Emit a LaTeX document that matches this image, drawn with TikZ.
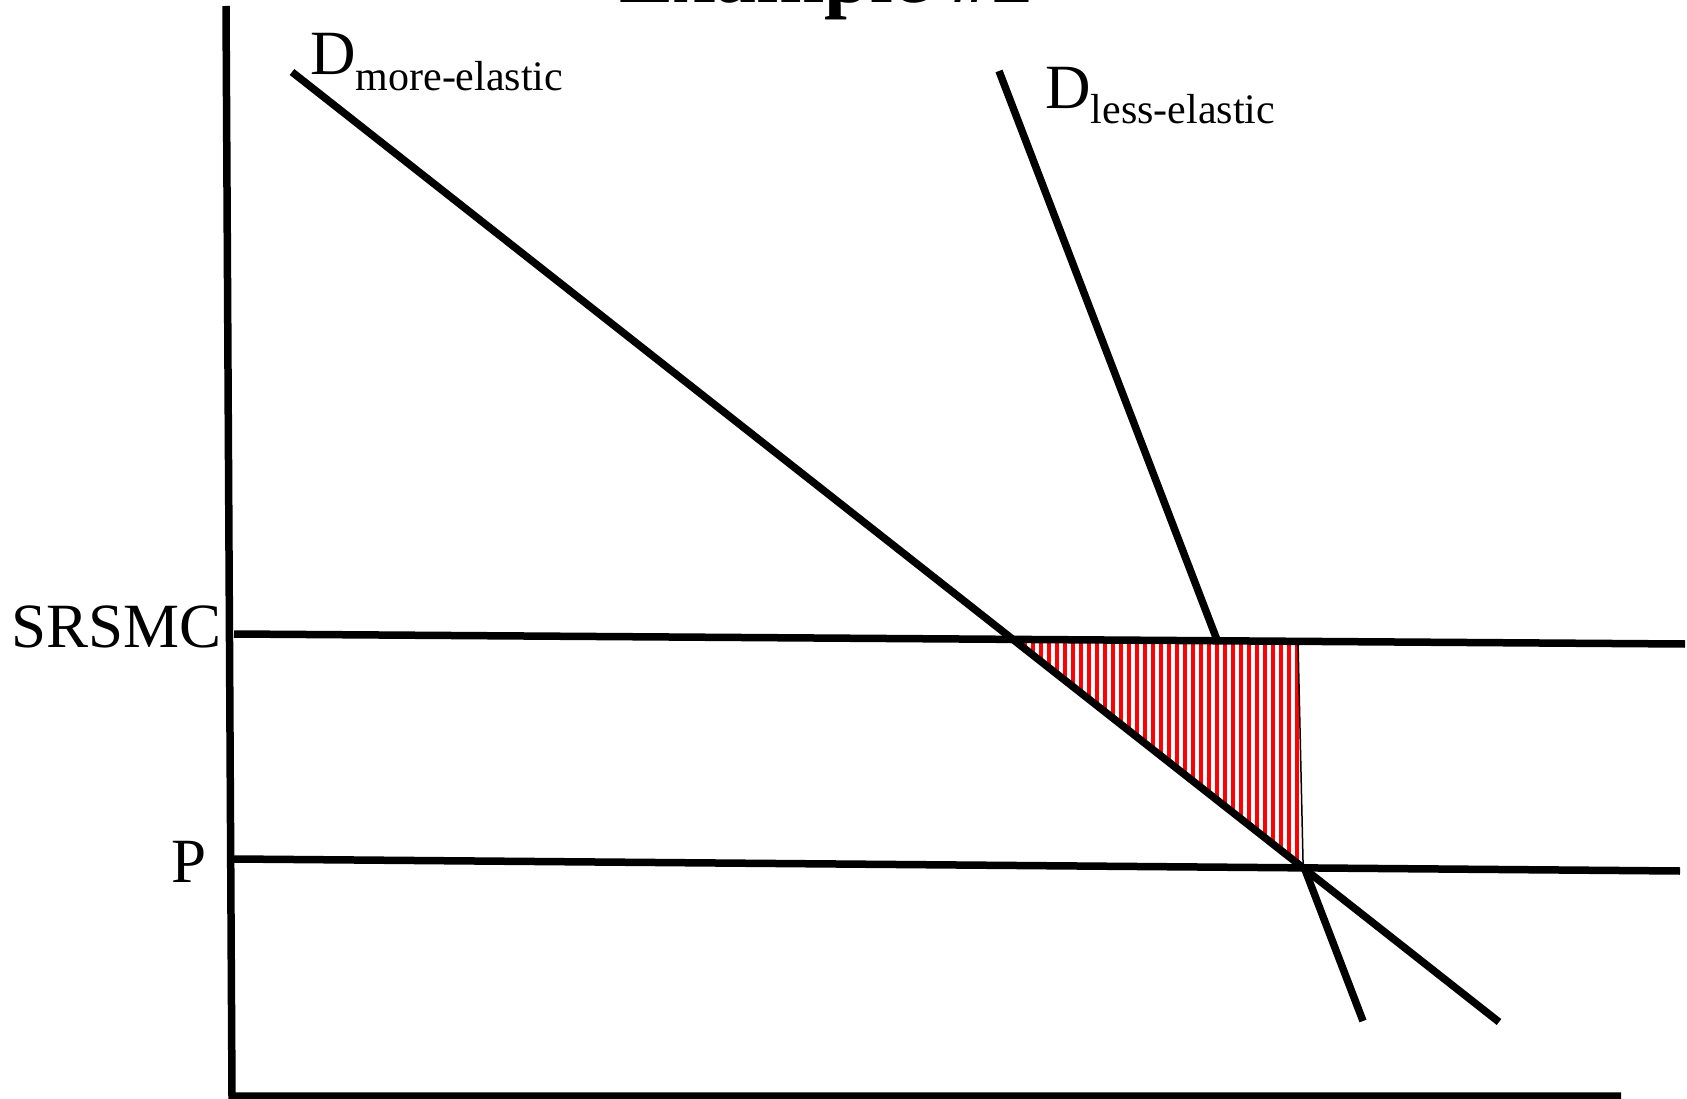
\documentclass[tikz,border=0pt]{standalone}
\usepackage{fontspec}
\setmainfont{Liberation Serif}
\usetikzlibrary{intersections}

\begin{document}
\begin{tikzpicture}[
  x=1pt, y=-1pt,
  curve/.style={line width=7.5pt},
  axis/.style={line width=7.5pt},
  lbl/.style={inner sep=0pt, font=\fontsize{63}{70}\selectfont},
  ttl/.style={inner sep=0pt, font=\fontsize{82}{90}\selectfont\bfseries},
  stripe/.style={red, line width=4.3pt}
]
  \useasboundingbox (0,0) rectangle (1687,1099);
  \clip (0,0) rectangle (1687,1099);

  \coordinate (ytop) at (226,6);
  \coordinate (orig) at (232,1096);
  \coordinate (xend) at (1621,1096);
  \coordinate (srL) at (234,634);
  \coordinate (srR) at (1685,644);
  \coordinate (pL) at (234,859);
  \coordinate (pR) at (1680,871);
  \coordinate (moreT) at (292,72);
  \coordinate (moreB) at (1499,1022);
  \coordinate (lessT) at (999,71);
  \coordinate (lessB) at (1363,1021);
  \coordinate (hatchR) at (1298,641);

  \node[ttl, anchor=base] (title) at (826,3) {Example \#2};

  \path[name path=srsmc] (srL) -- (srR);
  \path[name path=price] (pL) -- (pR);
  \path[name path=dmore] (moreT) -- (moreB);
  \path[name path=dless] (lessT) -- (lessB);
  \path[name intersections={of=dmore and srsmc, by=hatchL}];
  \path[name intersections={of=dmore and price, by=hatchB}];
  \path[name intersections={of=dless and srsmc, by=lessS}];
  \path[name intersections={of=dless and price, by=lessP}];

  \begin{scope}
    \clip (hatchL) -- (hatchR) -- (hatchB) -- cycle;
    \foreach \x in {1009.3,1017.3,...,1310}
      \draw[stripe] (\x,630) -- (\x,875);
  \end{scope}
  \draw[line width=1.5pt] (hatchL) -- (hatchR) -- (hatchB) -- cycle;

  \draw[axis] (ytop) -- (orig) -- (xend);
  \draw[curve] (srL) -- (srR);
  \draw[curve] (pL) -- (pR);
  \draw[curve] (moreT) -- (moreB);
  \draw[curve] (lessT) -- (lessS);
  \draw[curve] (lessP) -- (lessB);

  \node[lbl, anchor=base east] (srsmclbl) at (222,647) {SRSMC};
  \node[lbl, anchor=base east] (plbl) at (207,882) {P};
  \node[lbl, anchor=base west] (morelbl) at (310,75)
    {D\raisebox{-16pt}{\fontsize{42}{46}\selectfont more-elastic}};
  \node[lbl, anchor=base west] (lesslbl) at (1045,109)
    {D\raisebox{-15pt}{\fontsize{42}{46}\selectfont less-elastic}};
\end{tikzpicture}
\end{document}
